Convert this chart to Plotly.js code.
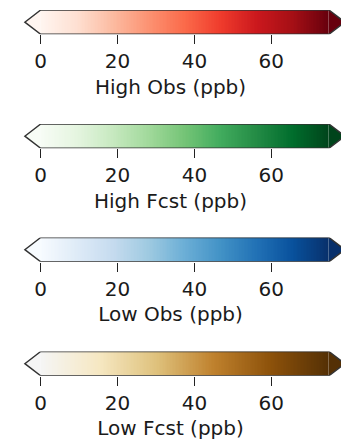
<!DOCTYPE html>
<html>
<head>
<meta charset="utf-8">
<script src="https://cdn.plot.ly/plotly-3.0.1.min.js"></script>
<style>html,body{margin:0;padding:0;background:#fff;}#chart{width:341px;height:444px;}</style>
</head>
<body>
<div id="chart"></div>
<script>
// ---- data ----
const labels = ["High Obs (ppb)", "High Fcst (ppb)", "Low Obs (ppb)", "Low Fcst (ppb)"];
const tickVals = [0, 20, 40, 60];
const tickText = ["0", "20", "40", "60"];
const vmin = 0;
const vmax = 75;
const redsColors = ["#fff5f0","#fee0d2","#fcbba1","#fc9272","#fb6a4a","#ef3b2c","#cb181d","#a50f15","#67000d"];
const greensColors = ["#f7fcf5","#e5f5e0","#c7e9c0","#a1d99b","#74c476","#41ab5d","#238b45","#006d2c","#00441b"];
const bluesColors = ["#f7fbff","#deebf7","#c6dbef","#9ecae1","#6baed6","#4292c6","#2171b5","#08519c","#08306b"];
const brownColors = ["#f5f5f5","#f6e8c3","#dfc27d","#bf812d","#8c510a","#543005"];

// ---- styling / layout ----
const palettes = [redsColors, greensColors, bluesColors, brownColors];
const W = 341, H = 444;
const barTops = [10, 124, 237.5, 351.5];
const barH = 24.3;
const x0px = 40.7, pxPerUnit = 3.843;
const xRange = [-x0px / pxPerUnit, (W - x0px) / pxPerUnit];
const ext = 0.055 * (vmax - vmin);
const font = {family: "DejaVu Sans, sans-serif", size: 20, color: "#1a1a1a"};

function scale(cols) {
  return cols.map((c, i) => [i / (cols.length - 1), c]);
}

const traces = [];
const layout = {
  width: W, height: H,
  margin: {l: 0, r: 0, t: 0, b: 0},
  paper_bgcolor: "#fff", plot_bgcolor: "rgba(0,0,0,0)",
  showlegend: false, font: font
};

const nSteps = 200;
palettes.forEach((cols, i) => {
  const k = i + 1;
  const xa = "x" + (k === 1 ? "" : k), ya = "y" + (k === 1 ? "" : k);
  // gradient cells spanning vmin..vmax
  const edges = [], z = [];
  for (let s = 0; s <= nSteps; s++) edges.push(vmin + (vmax - vmin) * s / nSteps);
  for (let s = 0; s < nSteps; s++) z.push((edges[s] + edges[s + 1]) / 2);
  traces.push({
    type: "heatmap", x: edges, y: [-0.5, 0.5], z: [z],
    colorscale: scale(cols), zmin: vmin, zmax: vmax, showscale: false,
    hoverinfo: "skip", xaxis: xa, yaxis: ya
  });
  // extend triangles
  traces.push({
    type: "scatter", mode: "none", x: [vmin, vmin - ext, vmin, vmin], y: [-0.5, 0, 0.5, -0.5],
    fill: "toself", fillcolor: cols[0], hoverinfo: "skip", xaxis: xa, yaxis: ya
  });
  traces.push({
    type: "scatter", mode: "none", x: [vmax, vmax + ext, vmax, vmax], y: [-0.5, 0, 0.5, -0.5],
    fill: "toself", fillcolor: cols[cols.length - 1], hoverinfo: "skip", xaxis: xa, yaxis: ya
  });
  // outline
  traces.push({
    type: "scatter", mode: "lines",
    x: [vmin, vmax, vmax + ext, vmax, vmin, vmin - ext, vmin],
    y: [0.5, 0.5, 0, -0.5, -0.5, 0, 0.5],
    line: {color: "#333", width: 1.4}, hoverinfo: "skip", xaxis: xa, yaxis: ya
  });
  const top = barTops[i], bot = top + barH;
  layout["xaxis" + (k === 1 ? "" : k)] = {
    domain: [0, 1], range: xRange, anchor: ya,
    tickvals: tickVals, ticktext: tickText, ticks: "outside", ticklen: 9, tickwidth: 1.4, tickcolor: "#222",
    showgrid: false, zeroline: false, showline: false, tickfont: font,
    title: {text: labels[i], font: font, standoff: 7}, fixedrange: true
  };
  layout["yaxis" + (k === 1 ? "" : k)] = {
    domain: [(H - bot) / H, (H - top) / H], range: [-0.5, 0.5], anchor: xa,
    visible: false, fixedrange: true
  };
});

Plotly.newPlot("chart", traces, layout, {staticPlot: true, displayModeBar: false});
</script>
</body>
</html>
